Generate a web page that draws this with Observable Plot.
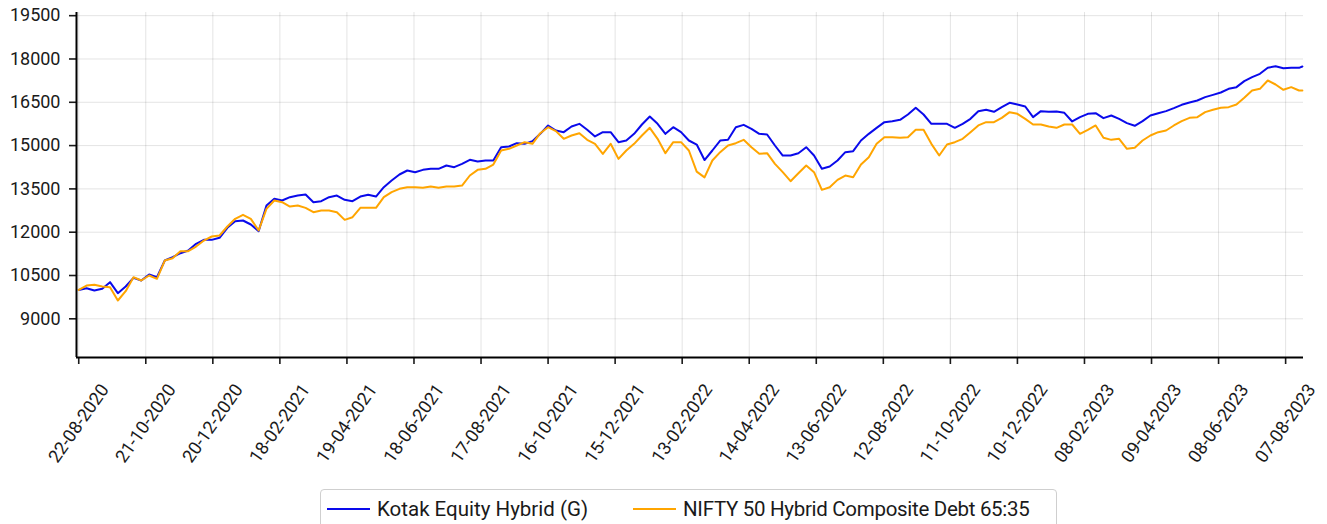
<!DOCTYPE html>
<html>
<head>
<meta charset="utf-8">
<script src="https://cdn.jsdelivr.net/npm/d3@7"></script>
<script src="https://cdn.jsdelivr.net/npm/@observablehq/plot@0.6"></script>
<style>
  html, body { margin: 0; padding: 0; background: #fff; }
  body { width: 1327px; height: 524px; overflow: hidden; position: relative; font-family: Roboto, sans-serif; }
  #legend {
    position: absolute; left: 320px; top: 489px; width: 737px; height: 40px;
    border: 1px solid #cfcfcf; border-radius: 4px; box-sizing: border-box;
    display: flex; align-items: center; font-size: 20.5px; color: #1a1a1a;
  }
  .sw { display: inline-block; width: 43px; height: 2px; margin: 0 7px 0 6px; }
  .item { display: flex; align-items: center; }
  .item + .item { margin-left: 39px; }
  .item + .item span:last-child { letter-spacing: -0.3px; }
</style>
</head>
<body>
<div id="chart"></div>
<div id="legend"></div>
<script>
const dates = [
"2020-08-22","2020-08-29","2020-09-05","2020-09-12","2020-09-19","2020-09-26","2020-10-03","2020-10-10","2020-10-17","2020-10-24",
"2020-10-31","2020-11-07","2020-11-14","2020-11-21","2020-11-28","2020-12-05","2020-12-12","2020-12-19","2020-12-26","2021-01-02",
"2021-01-09","2021-01-16","2021-01-23","2021-01-30","2021-02-06","2021-02-13","2021-02-20","2021-02-27","2021-03-06","2021-03-13",
"2021-03-20","2021-03-27","2021-04-03","2021-04-10","2021-04-17","2021-04-24","2021-05-01","2021-05-08","2021-05-15","2021-05-22",
"2021-05-29","2021-06-05","2021-06-12","2021-06-19","2021-06-26","2021-07-03","2021-07-10","2021-07-17","2021-07-24","2021-07-31",
"2021-08-07","2021-08-14","2021-08-21","2021-08-28","2021-09-04","2021-09-11","2021-09-18","2021-09-25","2021-10-02","2021-10-09",
"2021-10-16","2021-10-23","2021-10-30","2021-11-06","2021-11-13","2021-11-20","2021-11-27","2021-12-04","2021-12-11","2021-12-18",
"2021-12-25","2022-01-01","2022-01-08","2022-01-15","2022-01-22","2022-01-29","2022-02-05","2022-02-12","2022-02-19","2022-02-26",
"2022-03-05","2022-03-12","2022-03-19","2022-03-26","2022-04-02","2022-04-09","2022-04-16","2022-04-23","2022-04-30","2022-05-07",
"2022-05-14","2022-05-21","2022-05-28","2022-06-04","2022-06-11","2022-06-18","2022-06-25","2022-07-02","2022-07-09","2022-07-16",
"2022-07-23","2022-07-30","2022-08-06","2022-08-13","2022-08-20","2022-08-27","2022-09-03","2022-09-10","2022-09-17","2022-09-24",
"2022-10-01","2022-10-08","2022-10-15","2022-10-22","2022-10-29","2022-11-05","2022-11-12","2022-11-19","2022-11-26","2022-12-03",
"2022-12-10","2022-12-17","2022-12-24","2022-12-31","2023-01-07","2023-01-14","2023-01-21","2023-01-28","2023-02-04","2023-02-11",
"2023-02-18","2023-02-25","2023-03-04","2023-03-11","2023-03-18","2023-03-25","2023-04-01","2023-04-08","2023-04-15","2023-04-22",
"2023-04-29","2023-05-06","2023-05-13","2023-05-20","2023-05-27","2023-06-03","2023-06-10","2023-06-17","2023-06-24","2023-07-01",
"2023-07-08","2023-07-15","2023-07-22","2023-07-29","2023-08-05","2023-08-12","2023-08-19","2023-08-22"
];

const kotak = [
10000,10061,9980,10038,10269,9888,10119,10419,10327,10534,
10442,11019,11135,11273,11366,11597,11735,11735,11805,12151,
12382,12405,12267,12036,12925,13156,13098,13213,13271,13306,
13040,13075,13213,13271,13121,13075,13236,13300,13236,13560,
13791,13999,14137,14079,14160,14195,14195,14310,14253,14368,
14507,14449,14484,14484,14945,14969,15084,15061,15153,15407,
15696,15523,15465,15661,15754,15546,15315,15465,15465,15119,
15176,15407,15731,16008,15754,15407,15638,15465,15176,15037,
14500,14830,15176,15199,15638,15719,15580,15407,15384,15003,
14656,14656,14737,14945,14656,14195,14275,14483,14772,14806,
15176,15407,15615,15811,15846,15892,16077,16308,16077,15753,
15753,15753,15615,15753,15927,16192,16239,16169,16331,16481,
16423,16354,15985,16193,16169,16181,16135,15835,15985,16100,
16123,15950,16042,15927,15777,15685,15846,16042,16123,16193,
16296,16412,16493,16562,16678,16758,16839,16966,17024,17232,
17370,17486,17694,17751,17682,17694,17694,17740
];

const nifty = [
10000,10153,10177,10119,10096,9634,9957,10442,10327,10500,
10385,11019,11100,11343,11343,11504,11712,11851,11886,12197,
12463,12601,12463,12059,12809,13098,13040,12890,12925,12844,
12694,12751,12751,12694,12428,12520,12844,12850,12844,13213,
13387,13502,13560,13560,13537,13583,13537,13583,13583,13617,
13964,14160,14195,14345,14830,14888,15003,15119,15061,15430,
15638,15500,15234,15350,15430,15199,15061,14714,15061,14541,
14830,15061,15350,15615,15234,14738,15120,15118,14830,14100,
13900,14483,14772,15003,15084,15199,14945,14714,14737,14368,
14079,13767,14044,14310,14079,13467,13559,13813,13964,13906,
14345,14599,15061,15291,15291,15268,15291,15546,15546,15061,
14656,15038,15118,15234,15465,15700,15811,15811,15961,16158,
16100,15927,15731,15731,15661,15615,15731,15731,15407,15546,
15696,15269,15199,15234,14888,14922,15176,15350,15465,15523,
15696,15846,15961,15985,16158,16239,16308,16331,16423,16654,
16908,16966,17255,17116,16932,17024,16908,16908
];

const seriesNames = ["Kotak Equity Hybrid (G)", "NIFTY 50 Hybrid Composite Debt 65:35"];
const seriesColors = ["#0a0aeb", "#ffa500"];

const xTickLabels = ["22-08-2020","21-10-2020","20-12-2020","18-02-2021","19-04-2021","18-06-2021","17-08-2021",
  "16-10-2021","15-12-2021","13-02-2022","14-04-2022","13-06-2022","12-08-2022","11-10-2022","10-12-2022",
  "08-02-2023","09-04-2023","08-06-2023","07-08-2023"];
const yTicks = [9000, 10500, 12000, 13500, 15000, 16500, 18000, 19500];

const parseISO = d3.utcParse("%Y-%m-%d");
const parseDMY = d3.utcParse("%d-%m-%Y");
const fmtDMY = d3.utcFormat("%d-%m-%Y");
const xTickDates = xTickLabels.map(parseDMY);

const rows = [];
[kotak, nifty].forEach((vals, s) => {
  vals.forEach((v, i) => rows.push({date: parseISO(dates[i]), value: v, series: seriesNames[s]}));
});

const xDomain = [parseISO("2020-08-20"), parseISO("2023-08-23")];
const yDomain = [7660, 19610];

const chart = Plot.plot({
  width: 1327,
  height: 484,
  marginLeft: 76,
  marginRight: 24,
  marginTop: 12,
  marginBottom: 127,
  style: {fontFamily: "Roboto, sans-serif", fontSize: "18px", color: "#1a1a1a", background: "#fff"},
  x: {type: "utc", domain: xDomain},
  y: {domain: yDomain},
  color: {domain: seriesNames, range: seriesColors},
  marks: [
    Plot.gridX(xTickDates, {stroke: "#000", strokeOpacity: 0.11}),
    Plot.gridY(yTicks, {stroke: "#000", strokeOpacity: 0.11}),
    Plot.line(rows, {x: "date", y: "value", z: "series", stroke: "series", strokeWidth: 2, strokeLinejoin: "round"}),
    Plot.axisY(yTicks, {tickSize: 7, tickPadding: 9, tickFormat: d => String(d), label: null, strokeWidth: 1.6}),
    Plot.axisX(xTickDates, {tickSize: 7, tickFormat: () => "", label: null, strokeWidth: 1.6}),
    Plot.text(xTickDates, {x: d => d, text: d => fmtDMY(d), frameAnchor: "bottom", dy: 66, rotate: -55,
      textAnchor: "middle", lineAnchor: "middle", fontSize: 18, fill: "#1a1a1a"}),
    Plot.ruleX([xDomain[0]], {stroke: "#000", strokeWidth: 2}),
    Plot.ruleY([yDomain[0]], {stroke: "#000", strokeWidth: 2})
  ]
});
document.getElementById("chart").appendChild(chart);

const legend = document.getElementById("legend");
seriesNames.forEach((name, i) => {
  const item = document.createElement("div");
  item.className = "item";
  const sw = document.createElement("span");
  sw.className = "sw";
  sw.style.background = seriesColors[i];
  const label = document.createElement("span");
  label.textContent = name;
  item.appendChild(sw);
  item.appendChild(label);
  legend.appendChild(item);
});
</script>
</body>
</html>
